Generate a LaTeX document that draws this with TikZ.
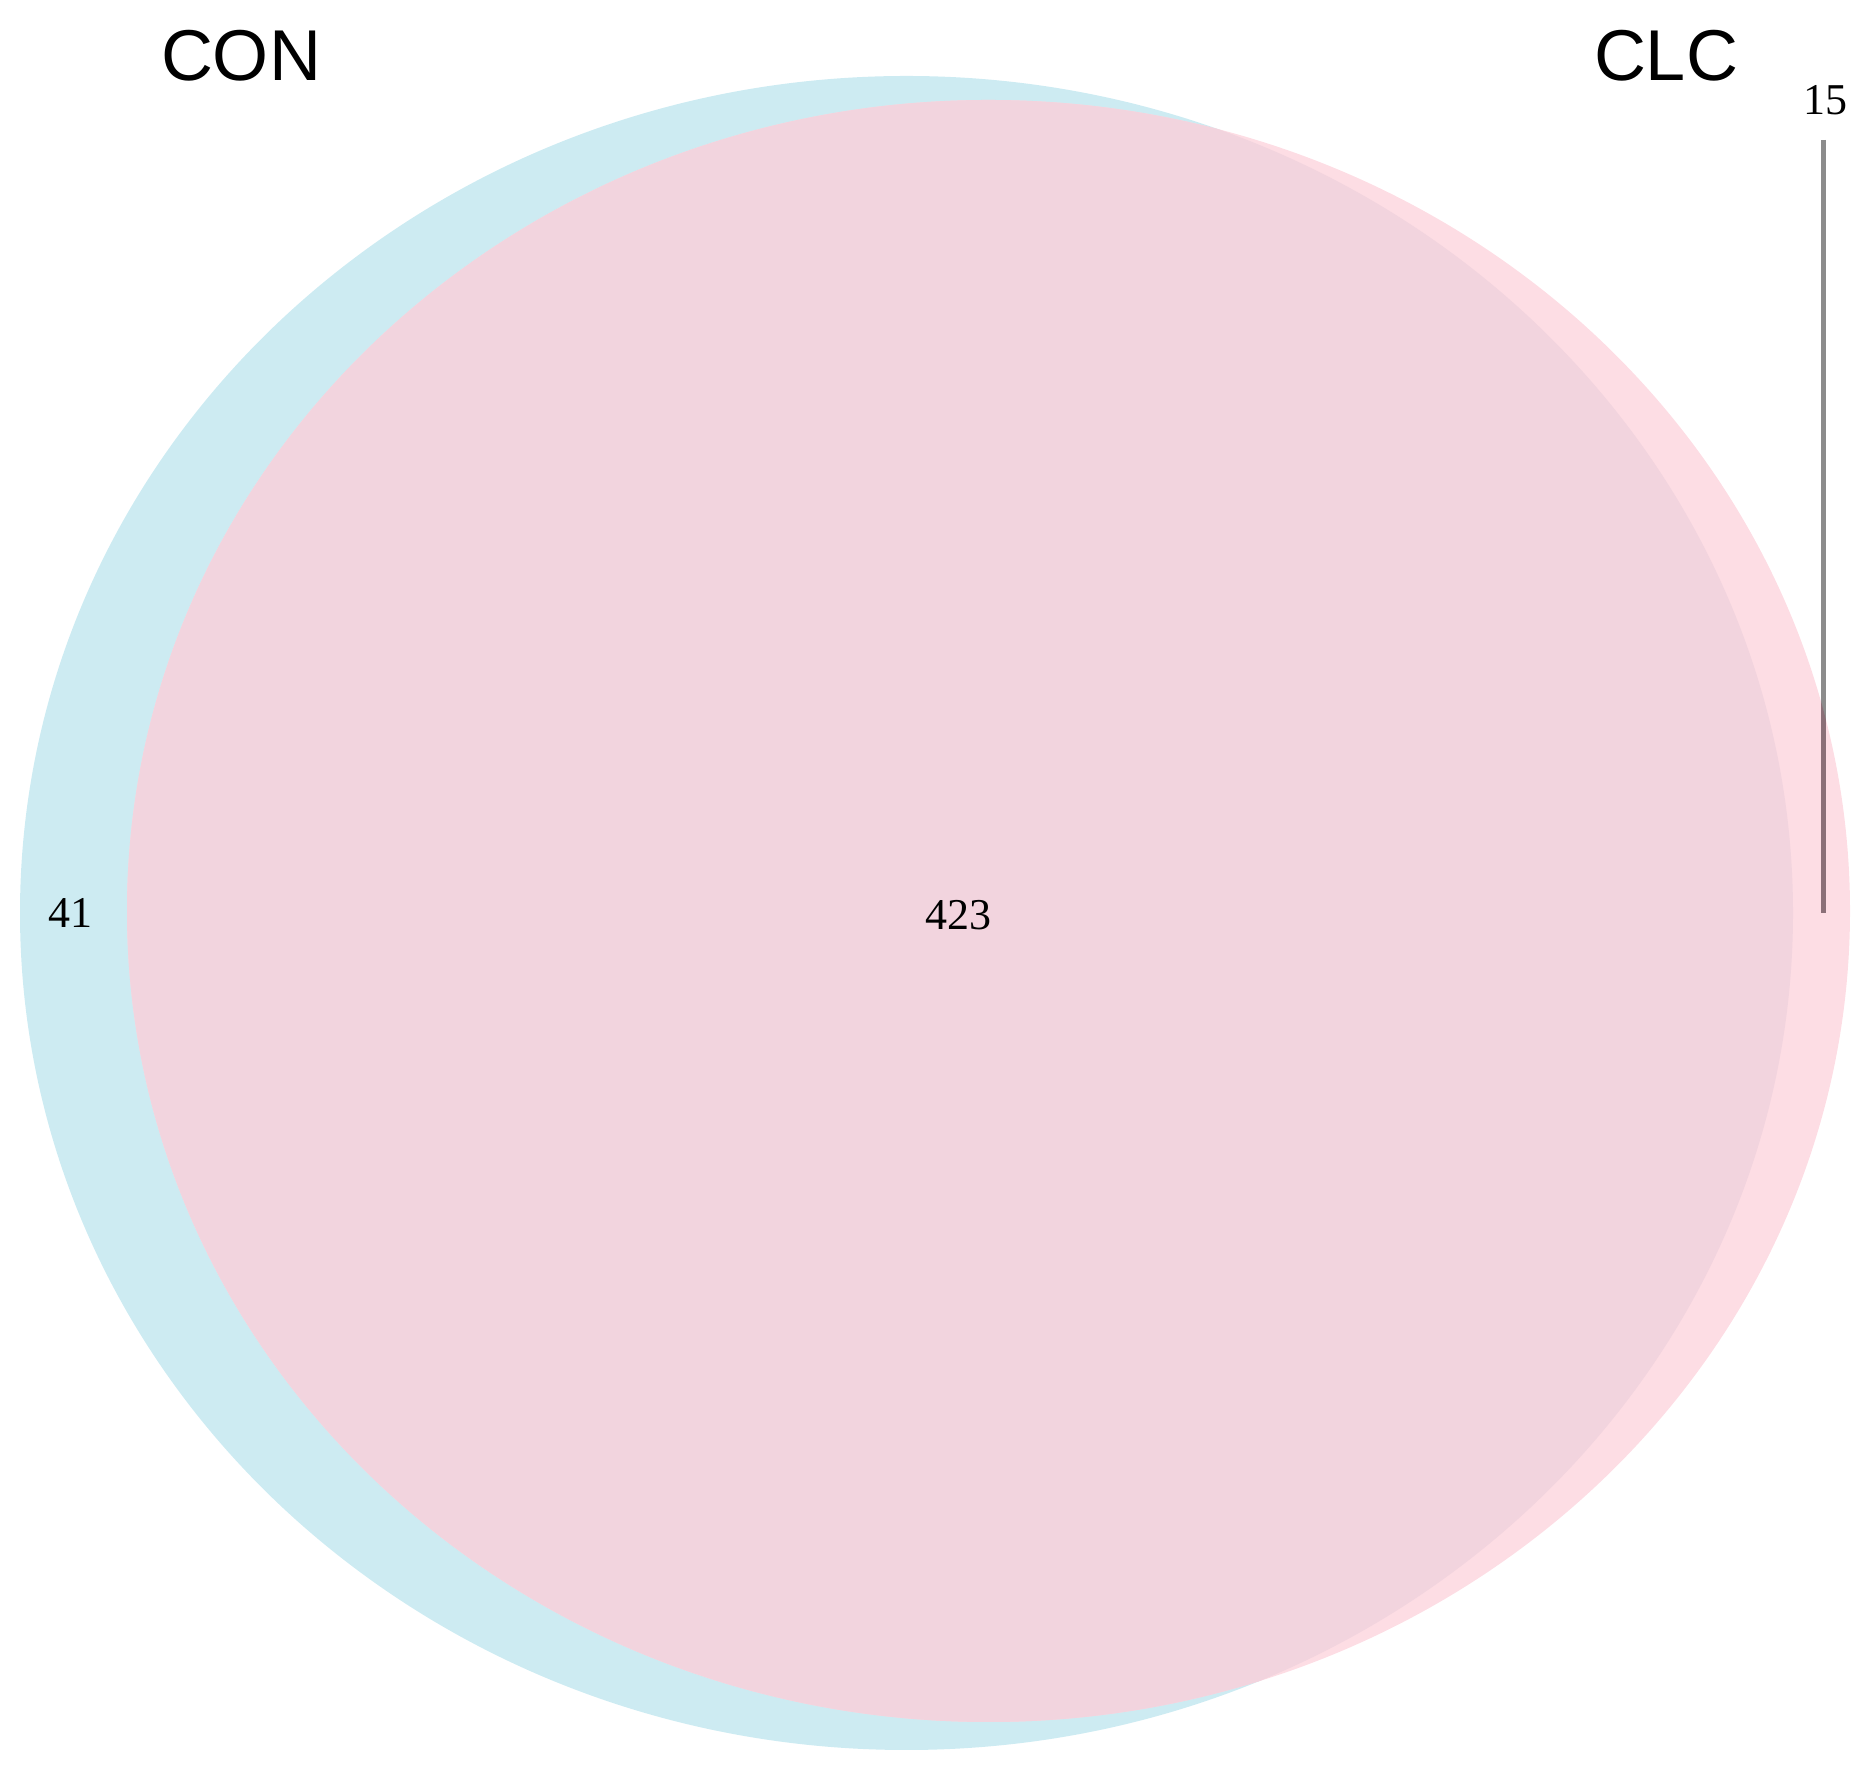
\documentclass[tikz,border=0pt]{standalone}
\usepackage{fontspec}
\setmainfont{Liberation Serif}
\newfontfamily\labelfont{Liberation Sans}
\definecolor{conblue}{RGB}{205,235,242}
\definecolor{clcpink}{RGB}{253,221,228}
\definecolor{overlap}{RGB}{242,212,222}
\definecolor{linegray}{RGB}{140,140,140}
\definecolor{linepink}{RGB}{139,112,120}
\tikzset{
  setlabel/.style={font=\labelfont\fontsize{72}{80}\selectfont, inner sep=0pt},
  countlabel/.style={font=\fontsize{44}{50}\selectfont, inner sep=0pt},
  leader/.style={line width=5pt}
}
\begin{document}
\begin{tikzpicture}[x=1pt,y=1pt]
\useasboundingbox (0,0) rectangle (1871,1771);
% ellipses (y measured from bottom: y = 1771 - ypx)
\fill[conblue] (906.5,858) ellipse [x radius=886.5, y radius=837];
\fill[clcpink] (988.5,860) ellipse [x radius=861.5, y radius=811];
\begin{scope}
  \clip (906.5,858) ellipse [x radius=886.5, y radius=837];
  \fill[overlap] (988.5,860) ellipse [x radius=861.5, y radius=811];
\end{scope}
% leader line
\coordinate (ltop) at (1823,1631);
\coordinate (lbot) at (1823,858);
\draw[leader, linegray] (ltop) -- (lbot);
\begin{scope}
  \clip (988.5,860) ellipse [x radius=861.5, y radius=811];
  \draw[leader, linepink] (ltop) -- (lbot);
\end{scope}
% labels
\node[setlabel] (con) at (241,1715) {CON};
\node[setlabel] (clc) at (1666,1715) {CLC};
\node[countlabel] (n41) at (70,858) {41};
\node[countlabel] (n423) at (958,856) {423};
\node[countlabel] (n15) at (1825,1671) {15};
\end{tikzpicture}
\end{document}
